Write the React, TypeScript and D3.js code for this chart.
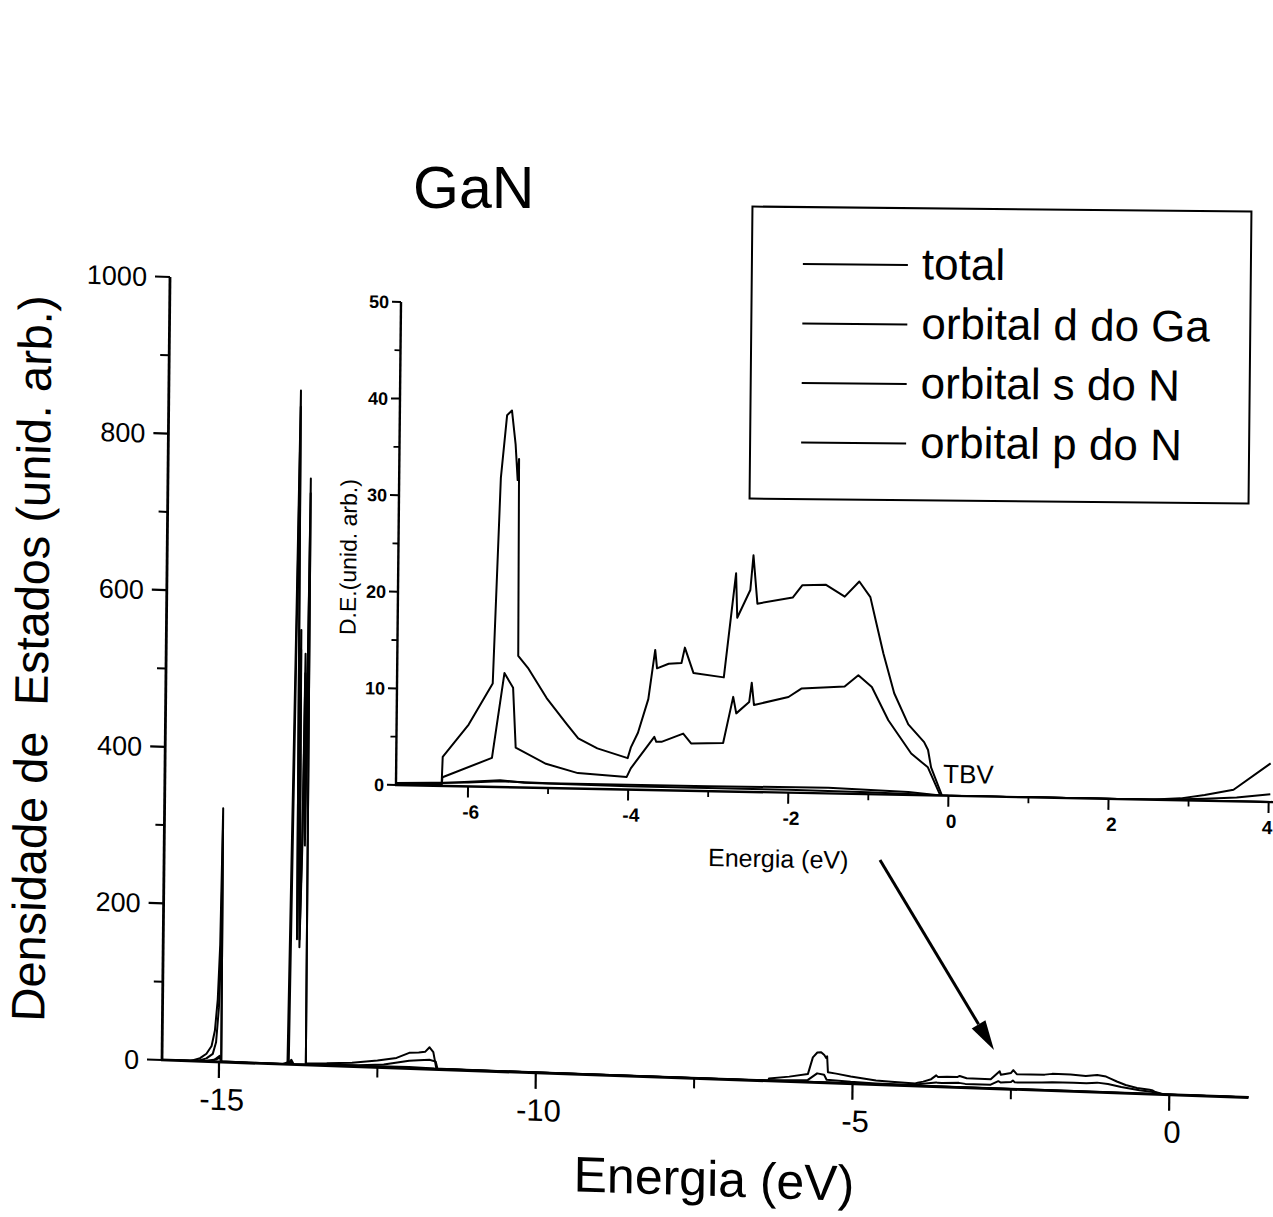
import React from 'react';
import * as d3 from 'd3';

type Pt = [number, number];

// Energy (eV), density of states (arb. units)
const totalDOS: Pt[] = [
  [-15.9, 0], [-15.45, 0], [-15.3, 4], [-15.2, 10], [-15.12, 20], [-15.07, 40], [-15.03, 80], [-15.0, 150],
  [-14.975, 324], [-14.965, 1], [-14.5, 0.5], [-13.92, 0], [-13.815, 861], [-13.79, 170], [-13.77, 555],
  [-13.75, 160], [-13.72, 300], [-13.7, 525], [-13.68, 290], [-13.645, 749], [-13.63, 2], [-13.3, 3],
  [-12.9, 5], [-12.5, 9], [-12.2, 13], [-12.0, 20], [-11.85, 21], [-11.75, 22], [-11.68, 28], [-11.62, 22],
  [-11.57, 1], [-11.0, 0.5], [-9.0, 0.3], [-7.0, 0.2], [-6.33, 0.2], [-6.32, 3.0], [-6.0, 6.4], [-5.705, 10.7],
  [-5.63, 32], [-5.56, 38.5], [-5.5, 39], [-5.45, 35.5], [-5.42, 31.8], [-5.405, 34], [-5.39, 13.6],
  [-5.26, 12.3], [-5.03, 9.3], [-4.78, 6.7], [-4.63, 5.2], [-4.39, 4.2], [-4.01, 3.25], [-3.97, 4.4],
  [-3.885, 5.9], [-3.76, 9.4], [-3.68, 14.5], [-3.655, 12.6], [-3.51, 13.1], [-3.35, 13.2], [-3.31, 14.8],
  [-3.2, 12.2], [-2.82, 11.8], [-2.68, 22.6], [-2.66, 18.0], [-2.5, 20.9], [-2.465, 24.5], [-2.41, 19.5],
  [-1.97, 20.2], [-1.85, 21.5], [-1.56, 21.6], [-1.32, 20.4], [-1.14, 22.0], [-1.0, 20.4], [-0.93, 18.0],
  [-0.83, 14.6], [-0.69, 10.5], [-0.51, 7.3], [-0.31, 5.5], [-0.26, 4.7], [-0.22, 2.9], [-0.08, 0],
  [2.5, 0], [2.9, 0.2], [3.2, 0.6], [3.56, 1.2], [4.02, 4.0],
];

const gaD: Pt[] = [
  [-15.9, 0], [-15.1, 1], [-14.99, 8], [-14.97, 0], [-13.9, 0], [-13.815, 840], [-13.79, 160], [-13.77, 530],
  [-13.75, 150], [-13.72, 280], [-13.7, 500], [-13.68, 280], [-13.645, 730], [-13.63, 0], [-13.3, 1],
  [-12.0, 2], [-11.6, 1], [-7.0, 0.2], [-6.0, 0.4], [-5.6, 0.6], [-5.0, 0.5], [-3.0, 0.5], [-1.5, 0.6],
  [-0.5, 0.3], [-0.1, 0], [4.02, 0],
];

const nS: Pt[] = [
  [-15.9, 0], [-15.35, 0], [-15.2, 4], [-15.1, 10], [-15.05, 25], [-15.01, 70], [-14.985, 160], [-14.975, 300],
  [-14.965, 0], [-13.9, 0], [-13.86, 6], [-13.82, 0], [-11.5, 0], [-6.5, 0.2], [-5.6, 0.7], [-5.3, 0.5],
  [-4.0, 0.35], [-2.0, 0.3], [-1.0, 0.2], [0.0, 0], [4.02, 0],
];

const nP: Pt[] = [
  [-15.9, 0], [-15.4, 0], [-15.2, 1], [-15.05, 3], [-14.98, 6], [-14.96, 0], [-14.0, 0], [-13.87, 4],
  [-13.83, 0], [-13.5, 1], [-12.8, 2], [-12.4, 4], [-12.0, 10], [-11.85, 11], [-11.68, 12], [-11.58, 10],
  [-11.55, 0.5], [-7.0, 0.1], [-6.33, 0.1], [-6.32, 0.9], [-5.705, 3.0], [-5.56, 11.8], [-5.45, 10.3],
  [-5.41, 4.1], [-5.03, 2.5], [-4.63, 1.6], [-4.02, 1.3], [-3.97, 2.2], [-3.68, 5.5], [-3.655, 5.0],
  [-3.59, 5.0], [-3.32, 5.9], [-3.22, 4.9], [-2.82, 5.0], [-2.7, 9.8], [-2.66, 8.1], [-2.5, 9.3],
  [-2.47, 11.3], [-2.44, 9.0], [-2.01, 9.9], [-1.85, 10.8], [-1.51, 11.0], [-1.31, 11.1], [-1.14, 12.3],
  [-0.97, 11.1], [-0.76, 7.7], [-0.47, 4.3], [-0.26, 2.9], [-0.1, 0], [2.6, 0], [3.2, 0.2], [3.6, 0.4],
  [4.02, 0.8],
];

const seriesList: Pt[][] = [totalDOS, gaD, nS, nP];
const legendLabels = ['total', 'orbital d do Ga', 'orbital s do N', 'orbital p do N'];

const mainXTicks = [-15, -10, -5, 0];
const mainXMinor = [-12.5, -7.5, -2.5];
const mainYTicks = [0, 200, 400, 600, 800, 1000];
const mainYMinor = [100, 300, 500, 700, 900];
const insetXTicks = [-6, -4, -2, 0, 2, 4];
const insetXMinor = [-5, -3, -1, 1, 3];
const insetYTicks = [0, 10, 20, 30, 40, 50];
const insetYMinor = [5, 15, 25, 35, 45];

const FONT = '"Liberation Sans", Arial, sans-serif';

// main panel geometry
const MAIN_W = 17.15 * 63.35;
const MAIN_H = 783;
const xMain = d3.scaleLinear().domain([-15.9, 1.25]).range([0, MAIN_W]);
const yMain = d3.scaleLinear().domain([0, 1000]).range([MAIN_H, 0]);

// inset geometry
const IN_W = 10.92 * 80.06;
const IN_H = 483;
const xIn = d3.scaleLinear().domain([-6.9, 4.02]).range([0, IN_W]);
const yIn = d3.scaleLinear().domain([0, 50]).range([IN_H, 0]);

export default function App() {
  const lineMain = d3.line<Pt>().x(d => xMain(d[0])).y(d => yMain(d[1]));
  const lineIn = d3.line<Pt>().x(d => xIn(d[0])).y(d => yIn(d[1]));

  // arrow annotation
  const a0 = [880, 860];
  const a1 = [994, 1050];
  const dx = a1[0] - a0[0];
  const dy = a1[1] - a0[1];
  const len = Math.hypot(dx, dy);
  const ux = dx / len, uy = dy / len;
  const headL = 30, headW = 8;
  const bx = a1[0] - ux * headL, by = a1[1] - uy * headL;
  const head = `M${a1[0]},${a1[1]} L${bx - uy * headW},${by + ux * headW} L${bx + uy * headW},${by - ux * headW} Z`;

  const lastIn = insetXTicks[insetXTicks.length - 1];

  return (
    <svg width={1273} height={1217} style={{ position: 'absolute', left: 0, top: 0, background: '#fff' }}
      fontFamily={FONT}>
      <defs>
        <clipPath id="clipMain">
          <rect x={0} y={-10} width={MAIN_W} height={MAIN_H + 10} />
        </clipPath>
        <clipPath id="clipIn">
          <rect x={0} y={-10} width={IN_W + 5} height={IN_H + 10} />
        </clipPath>
      </defs>
      <rect x={0} y={0} width={1273} height={1217} fill="#fff" />

      {/* MAIN PANEL */}
      <g transform={`matrix(1, 0.0345, -0.0102, 1, 170, 277)`}>
        <g clipPath="url(#clipMain)" fill="none" stroke="#000" strokeWidth={2} strokeLinejoin="round">
          {seriesList.map((s, i) => (
            <path key={i} d={lineMain(s) || ''} />
          ))}
        </g>
        <line x1={0} y1={0} x2={0} y2={MAIN_H} stroke="#000" strokeWidth={2.8} />
        <line x1={-1} y1={MAIN_H} x2={MAIN_W} y2={MAIN_H} stroke="#000" strokeWidth={2.8} />
        {mainYTicks.map(t => (
          <g key={'my' + t}>
            <line x1={-15} x2={0} y1={yMain(t)} y2={yMain(t)} stroke="#000" strokeWidth={2.2} />
            <text x={-23} y={yMain(t)} dy="0.36em" textAnchor="end" fontSize={27}>{t}</text>
          </g>
        ))}
        {mainYMinor.map(t => (
          <line key={'mym' + t} x1={-9} x2={0} y1={yMain(t)} y2={yMain(t)} stroke="#000" strokeWidth={2} />
        ))}
        {mainXTicks.map(t => (
          <g key={'mx' + t}>
            <line x1={xMain(t)} x2={xMain(t)} y1={MAIN_H} y2={MAIN_H + 16} stroke="#000" strokeWidth={2.2} />
            <text x={xMain(t) + 3} y={MAIN_H + 48} textAnchor="middle" fontSize={31}>{String(t)}</text>
          </g>
        ))}
        {mainXMinor.map(t => (
          <line key={'mxm' + t} x1={xMain(t)} x2={xMain(t)} y1={MAIN_H} y2={MAIN_H + 10} stroke="#000" strokeWidth={2} />
        ))}
        <text x={553} y={MAIN_H + 117} textAnchor="middle" fontSize={50}>Energia (eV)</text>
        <text transform={`translate(-118, 386) rotate(-90)`} textAnchor="middle" fontSize={47}
          style={{ whiteSpace: 'pre' }}>{'Densidade de  Estados (unid. arb.)'}</text>
      </g>

      {/* INSET PANEL */}
      <g transform={`matrix(1, 0.0195, -0.0104, 1, 401, 302)`}>
        <g clipPath="url(#clipIn)" fill="none" stroke="#000" strokeWidth={2} strokeLinejoin="round">
          {seriesList.map((s, i) => (
            <path key={i} d={lineIn(s.filter(p => p[0] >= -7.2)) || ''} />
          ))}
        </g>
        <line x1={0} y1={0} x2={0} y2={IN_H} stroke="#000" strokeWidth={2.4} />
        <line x1={-1} y1={IN_H} x2={IN_W + 10} y2={IN_H} stroke="#000" strokeWidth={2.4} />
        {insetYTicks.map(t => (
          <g key={'iy' + t}>
            <line x1={-9} x2={0} y1={yIn(t)} y2={yIn(t)} stroke="#000" strokeWidth={2} />
            <text x={-12} y={yIn(t)} dy="0.36em" textAnchor="end" fontSize={18} fontWeight="bold">{t}</text>
          </g>
        ))}
        {insetYMinor.map(t => (
          <line key={'iym' + t} x1={-6} x2={0} y1={yIn(t)} y2={yIn(t)} stroke="#000" strokeWidth={1.8} />
        ))}
        {insetXTicks.map(t => (
          <g key={'ix' + t}>
            <line x1={xIn(t)} x2={xIn(t)} y1={IN_H} y2={IN_H + 11} stroke="#000" strokeWidth={2} />
            <text x={t === lastIn ? xIn(t) + 4 : xIn(t) + 3} y={IN_H + 32}
              textAnchor={t === lastIn ? 'end' : 'middle'} fontSize={19} fontWeight="bold">{String(t)}</text>
          </g>
        ))}
        {insetXMinor.map(t => (
          <line key={'ixm' + t} x1={xIn(t)} x2={xIn(t)} y1={IN_H} y2={IN_H + 6} stroke="#000" strokeWidth={1.8} />
        ))}
        <text x={383} y={IN_H + 75} textAnchor="middle" fontSize={25}>Energia (eV)</text>
        <text transform={`translate(-42, 256) rotate(-90)`} textAnchor="middle" fontSize={23}>D.E.(unid. arb.)</text>
        <text x={547} y={470} fontSize={26}>TBV</text>
      </g>

      {/* Title */}
      <text x={413} y={208} fontSize={59}>GaN</text>

      {/* Legend */}
      <g transform="rotate(0.57, 1000, 355)">
        <rect x={751} y={209} width={499} height={292} fill="none" stroke="#000" strokeWidth={2} />
        {legendLabels.map((lab, i) => (
          <g key={lab}>
            <line x1={802} x2={907} y1={266 + i * 59.5} y2={266 + i * 59.5} stroke="#000" strokeWidth={2} />
            <text x={921} y={280 + i * 59.5} fontSize={44}>{lab}</text>
          </g>
        ))}
      </g>

      {/* Arrow */}
      <line x1={a0[0]} y1={a0[1]} x2={bx} y2={by} stroke="#000" strokeWidth={3} />
      <path d={head} fill="#000" />
    </svg>
  );
}
